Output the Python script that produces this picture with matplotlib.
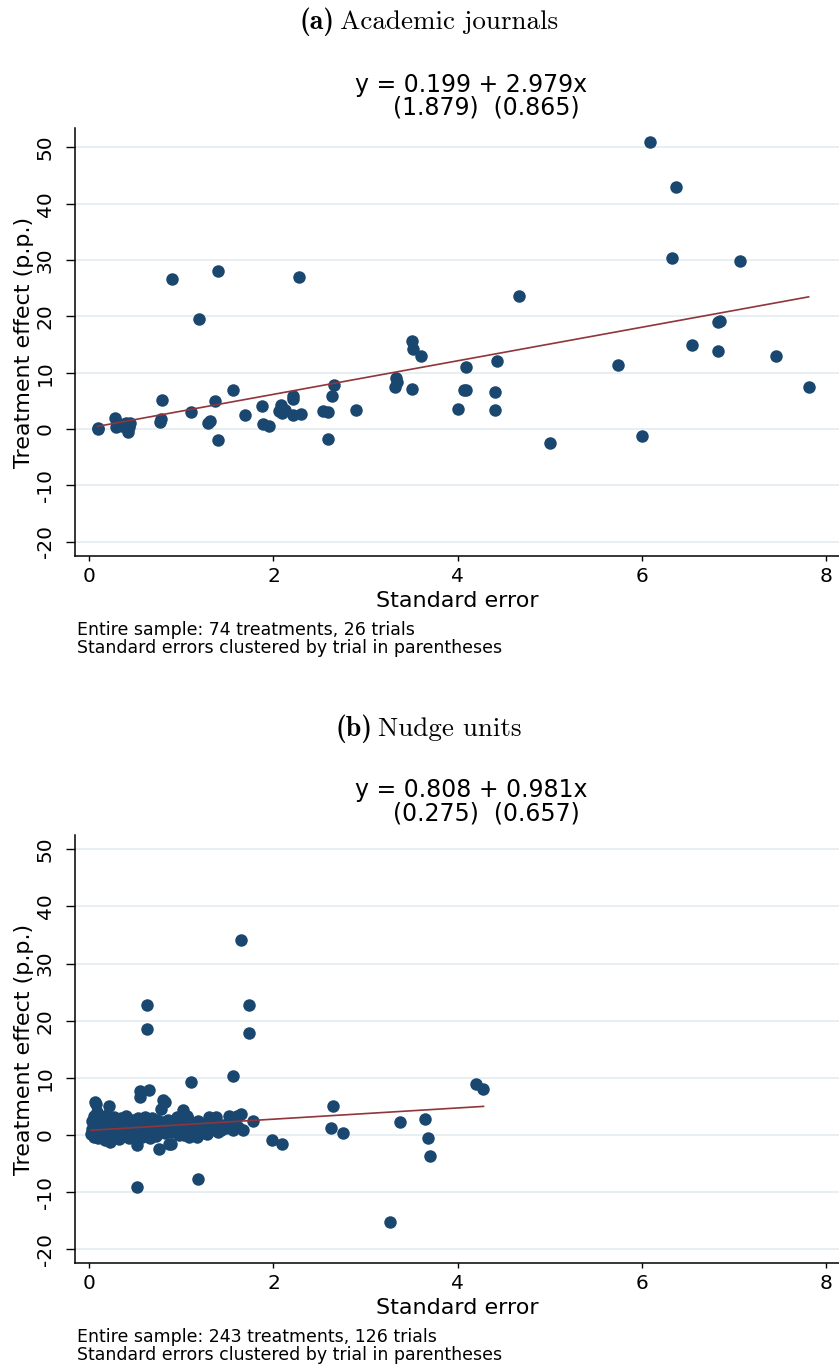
import matplotlib
matplotlib.use('Agg')
import matplotlib.pyplot as plt
import numpy as np

plt.rcParams['font.family'] = 'DejaVu Sans'
plt.rcParams['axes.unicode_minus'] = False

# (a) academic journals: standard error, treatment effect (p.p.)
journal_se = [0.09, 0.10, 0.28, 0.29, 0.30, 0.33, 0.36, 0.40, 0.42, 0.43, 0.44,
              0.77, 0.78, 0.79, 0.90, 1.10, 1.19, 1.29, 1.31, 1.36, 1.40, 1.40,
              1.56, 1.69, 1.88, 1.89, 1.95, 2.06, 2.08, 2.09, 2.12, 2.21, 2.21,
              2.21, 2.28, 2.30, 2.54, 2.59, 2.59, 2.63, 2.66, 2.90, 3.32, 3.33,
              3.34, 3.50, 3.51, 3.60, 3.50, 4.00, 4.07, 4.09, 4.09, 4.43, 4.41,
              4.40, 4.67, 5.00, 5.74, 6.00, 6.09, 6.37, 6.33, 6.54, 6.83, 6.85,
              6.83, 7.06, 7.46, 7.81]
journal_te = [0.0, 0.1, 1.9, 0.3, 0.8, 0.9, 0.6, 1.1, -0.5, 0.3, 1.0,
              1.3, 1.7, 5.1, 26.7, 3.1, 19.5, 1.0, 1.5, 4.9, 28.0, -2.0,
              6.9, 2.4, 4.0, 0.9, 0.5, 3.2, 4.3, 2.8, 3.4, 5.9, 5.3,
              2.4, 27.0, 2.6, 3.2, 3.0, -1.7, 5.9, 7.9, 3.4, 7.4, 9.0,
              8.4, 15.7, 14.2, 13.0, 7.1, 3.5, 7.0, 7.0, 11.0, 12.0, 6.5,
              3.4, 23.7, -2.4, 11.4, -1.2, 51.0, 43.0, 30.4, 14.9, 19.0, 19.1,
              13.9, 29.9, 12.9, 7.4]

# (b) nudge units
nudge_se = [0.02, 0.03, 0.04, 0.05, 0.05, 0.06, 0.07, 0.08, 0.08, 0.09, 0.10,
            0.10, 0.11, 0.12, 0.13, 0.14, 0.15, 0.16, 0.17, 0.18, 0.19, 0.20,
            0.21, 0.22, 0.22, 0.23, 0.24, 0.25, 0.26, 0.27, 0.28, 0.29, 0.30,
            0.31, 0.32, 0.33, 0.34, 0.35, 0.36, 0.37, 0.38, 0.39, 0.40, 0.41,
            0.42, 0.43, 0.44, 0.45, 0.46, 0.47, 0.48, 0.49, 0.50, 0.51, 0.52,
            0.52, 0.53, 0.54, 0.55, 0.55, 0.56, 0.57, 0.58, 0.59, 0.60, 0.61,
            0.62, 0.63, 0.63, 0.64, 0.65, 0.65, 0.66, 0.67, 0.68, 0.69, 0.70,
            0.71, 0.72, 0.73, 0.74, 0.75, 0.76, 0.77, 0.78, 0.79, 0.80, 0.80,
            0.82, 0.82, 0.84, 0.86, 0.87, 0.88, 0.89, 0.90, 0.92, 0.95, 0.97,
            1.00, 1.02, 1.03, 1.05, 1.06, 1.07, 1.08, 1.10, 1.12, 1.14, 1.17,
            1.18, 1.18, 1.20, 1.22, 1.25, 1.28, 1.30, 1.32, 1.35, 1.38, 1.40,
            1.43, 1.45, 1.48, 1.52, 1.55, 1.56, 1.56, 1.60, 1.62, 1.65, 1.65,
            1.67, 1.73, 1.73, 1.78, 1.98, 2.09, 2.62, 2.65, 2.75, 3.27, 3.37,
            3.65, 3.68, 3.70, 4.20, 4.28,
            0.04, 0.07, 0.12, 0.15, 0.18, 0.24, 0.28, 0.33, 0.38, 0.44, 0.48,
            0.53, 0.58, 0.64, 0.70, 0.74, 0.84, 0.92, 0.03, 0.09, 0.14, 0.20,
            0.26, 0.31, 0.36, 0.42, 0.47, 0.57, 0.61, 0.68, 0.73, 0.79]
nudge_te = [0.2, 1.0, 0.5, -0.3, 3.4, 5.8, 5.5, 4.1, 2.0, 1.2, 0.4,
            -0.6, 2.8, 1.6, 0.0, 3.0, 0.8, 2.2, -0.9, 1.3, 3.5, 0.3,
            5.1, 1.9, -1.2, 0.7, 2.6, 1.1, -0.4, 3.2, 0.9, 1.8, 0.1,
            2.4, -0.7, 1.4, 3.0, 0.5, 2.0, -0.2, 1.2, 2.8, 3.3, 0.6,
            1.7, -0.5, 2.3, 0.9, 1.5, -0.1, 2.6, 1.0, 0.3, 1.9, -1.8,
            -9.1, 2.9, 0.7, 6.7, 7.7, 1.4, -0.3, 2.2, 1.0, 3.1, 0.2,
            1.7, 22.7, 18.5, 2.5, 7.8, 0.8, -0.6, 1.6, 2.9, 0.4, 1.2,
            2.0, -0.2, 1.0, 2.6, 0.5, -2.5, 1.5, 4.6, 0.9, 6.1, 2.2,
            5.8, 0.3, 1.3, 2.7, -1.6, 2.0, -1.5, 0.6, 1.1, 3.2, 0.0,
            1.1, 4.3, 0.0, 2.0, 3.3, 2.8, -0.4, 9.3, 1.4, 0.6, -0.3,
            2.5, -7.7, 1.2, 0.4, 1.9, 0.2, 3.2, 0.9, 1.6, 3.1, 0.6,
            0.9, 1.8, 1.2, 3.3, 1.6, 10.3, 0.9, 3.4, 1.4, 3.7, 34.1,
            0.8, 22.7, 17.9, 2.4, -0.9, -1.6, 1.2, 5.0, 0.3, -15.2, 2.3,
            2.8, -0.5, -3.7, 8.9, 8.0,
            0.8, 1.5, 0.4, 1.9, 0.6, 1.3, 2.2, 0.8, 1.6, 0.4, 1.4,
            0.9, 1.9, 0.5, 1.7, 1.1, 0.7, 1.9, 2.4, 0.9, 1.8, 0.6,
            1.4, 0.2, 1.1, 0.7, 1.8, 0.9, 1.5, 0.3, 1.2, 0.6]

panels = [
    dict(tag='(a)', title='Academic journals', tag_x=334,
         se=journal_se, te=journal_te, b0=0.199, b1=2.979,
         eq='y = 0.199 + 2.979x', ses='(1.879)  (0.865)',
         note='Entire sample: 74 treatments, 26 trials',
         top=128.3, bottom=555.7, ylim=(-22.5, 53.4), title_y=22,
         eq_y=85, note_y=630),
    dict(tag='(b)', title='Nudge units', tag_x=372,
         se=nudge_se, te=nudge_te, b0=0.808, b1=0.981,
         eq='y = 0.808 + 0.981x', ses='(0.275)  (0.657)',
         note='Entire sample: 243 treatments, 126 trials',
         top=835, bottom=1263, ylim=(-22.4, 52.5), title_y=729,
         eq_y=790, note_y=1337),
]

W, H = 839, 1368
fig = plt.figure(figsize=(W / 100, H / 100), dpi=100)
navy = '#1a476f'
maroon = '#90353b'
grid_c = '#e8eff2'

for p in panels:
    ax = fig.add_axes([75 / W, 1 - p['bottom'] / H, 1 - 75 / W,
                       (p['bottom'] - p['top']) / H])
    ax.set_xlim(-0.155, 8.14)
    ax.set_ylim(*p['ylim'])
    ax.set_yticks(np.arange(-20, 51, 10))
    ax.set_xticks([0, 2, 4, 6, 8])
    for s in ['top', 'right']:
        ax.spines[s].set_visible(False)
    for s in ['left', 'bottom']:
        ax.spines[s].set_linewidth(1.1)
    ax.grid(axis='y', color=grid_c, linewidth=1.4)
    ax.set_axisbelow(True)

    x = np.array(p['se'])
    y = np.array(p['te'])
    ax.plot(x, y, 'o', color=navy, markersize=9, markeredgewidth=0, zorder=3)
    xs = np.array([x.min(), x.max()])
    ax.plot(xs, p['b0'] + p['b1'] * xs, color=maroon, linewidth=1.2, zorder=4)

    ax.tick_params(axis='y', length=6.5, width=1.0, pad=8, labelsize=14.5)
    ax.tick_params(axis='x', length=3.6, width=1.0, pad=4.5, labelsize=14.5)
    plt.setp(ax.get_yticklabels(), rotation=90, va='center')

    ax.set_xlabel('Standard error', fontsize=16)
    ax.xaxis.label.set_va('center')
    ax.xaxis.set_label_coords(0.5, -0.106)
    ax.set_ylabel('Treatment effect (p.p.)', fontsize=16)
    ax.yaxis.label.set_va('center')
    ax.yaxis.set_label_coords(-0.0667, 0.5)

    ty = 1 - p['title_y'] / H
    fig.text(p['tag_x'] / W, ty, p['tag'], fontsize=20, family='cmb10',
             ha='right', va='center')
    fig.text((p['tag_x'] + 6) / W, ty, p['title'], fontsize=19.5,
             family='cmr10', ha='left', va='center')
    fig.text(471 / W, 1 - p['eq_y'] / H, p['eq'], fontsize=17,
             ha='center', va='center')
    fig.text(486 / W, 1 - (p['eq_y'] + 23) / H, p['ses'], fontsize=17,
             ha='center', va='center')
    fig.text(77 / W, 1 - p['note_y'] / H, p['note'], fontsize=12.5,
             ha='left', va='center')
    fig.text(77 / W, 1 - (p['note_y'] + 18.5) / H,
             'Standard errors clustered by trial in parentheses',
             fontsize=12.5, ha='left', va='center')

fig.savefig('out.png', dpi=100, facecolor='white')
